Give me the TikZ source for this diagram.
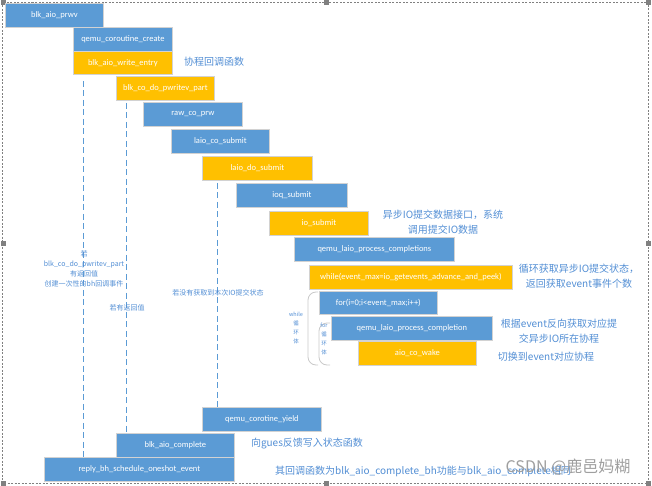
\documentclass[tikz,border=0pt]{standalone}
\usepackage{fontspec}
\setmainfont{Carlito}
\newfontfamily\cjk{Noto Sans CJK SC}
\usepackage{tikz}
\usetikzlibrary{positioning, calc}
\usepackage{xcolor}
\definecolor{boxblue}{RGB}{91,155,213}
\definecolor{boxyellow}{RGB}{255,192,0}
\definecolor{noteblue}{RGB}{82,142,212}
\definecolor{framegray}{RGB}{128,128,128}
\definecolor{bracegray}{RGB}{200,200,200}

\begin{document}
\begin{tikzpicture}[x=1pt, y=-1pt,
  fn/.style={draw=gray!35, line width=0.8pt, text=white, minimum height=24, inner sep=0pt,
    anchor=north west, font=\fontsize{8.5}{10}\selectfont},
  bluefn/.style={fn, fill=boxblue},
  yellowfn/.style={fn, fill=boxyellow},
  note/.style={text=noteblue, font=\cjk\fontsize{10}{15}\selectfont, align=center},
  smallnote/.style={text=noteblue, font=\cjk\fontsize{7}{10}\selectfont, align=center},
  tinynote/.style={text=noteblue, font=\cjk\fontsize{5.5}{9}\selectfont, align=center},
  lifeline/.style={draw=boxblue, line width=0.9pt, dash pattern=on 6pt off 3.5pt},
  loopbrace/.style={draw=bracegray, line width=0.8pt, rounded corners=8pt}]
  \useasboundingbox (0,0) rectangle (652,486);

  \draw[framegray, line width=0.6pt, dash pattern=on 2pt off 1.5pt] (2,2) rectangle (648,483);
  \foreach \hx/\hy in {3/3, 326/3, 648/3, 3/243, 648/243, 3/483, 326/483, 648/483} {
    \fill[framegray] (\hx-2.5, \hy-2.5) rectangle ++(5,5);
  }

  \node[bluefn, minimum width=98] (prwv) at (5,3) {blk\_aio\_prwv};
  \node[bluefn, minimum width=99] (create) at (73,27) {qemu\_coroutine\_create};
  \node[yellowfn, minimum width=99, minimum height=23] (entry) at (73,51) {blk\_aio\_write\_entry};
  \node[yellowfn, minimum width=98] (pwritev) at (116,76) {blk\_co\_do\_pwritev\_part};
  \node[bluefn, minimum width=99] (rawprw) at (143,102) {raw\_co\_prw};
  \node[bluefn, minimum width=98] (cosubmit) at (171,129) {laio\_co\_submit};
  \node[yellowfn, minimum width=110] (dosubmit) at (202,156) {laio\_do\_submit};
  \node[bluefn, minimum width=111] (ioq) at (236,183) {ioq\_submit};
  \node[yellowfn, minimum width=99] (iosubmit) at (269,211) {io\_submit};
  \node[bluefn, minimum width=160] (completions) at (294,237) {qemu\_laio\_process\_completions};
  \node[yellowfn, minimum width=203] (whileloop) at (309,265) {while(event\_max=io\_getevents\_advance\_and\_peek)};
  \node[bluefn, minimum width=118, minimum height=23] (forloop) at (319,291) {for(i=0;i<event\_max;i++)};
  \node[bluefn, minimum width=161] (completion) at (331,316) {qemu\_laio\_process\_completion};
  \node[yellowfn, minimum width=118] (cowake) at (358,341) {aio\_co\_wake};
  \node[bluefn, minimum width=119] (yield) at (202,407) {qemu\_corotine\_yield};
  \node[bluefn, minimum width=118] (complete) at (116,433) {blk\_aio\_complete};
  \node[bluefn, minimum width=190] (reply) at (44,457) {reply\_bh\_schedule\_oneshot\_event};

  \coordinate (l1) at ([xshift=10pt, yshift=-6pt]entry.south west);
  \coordinate (l2) at ([xshift=10pt, yshift=-2pt]pwritev.south west);
  \coordinate (l3) at ([xshift=15pt, yshift=-2pt]dosubmit.south west);
  \draw[lifeline] (l1) -- (l1 |- reply.north);
  \draw[lifeline] (l2) -- (l2 |- complete.north);
  \draw[lifeline] (l3) -- (l3 |- yield.north);

  \node[smallnote] (ifpart) at (84,269) {若\\blk\_co\_do\_pwritev\_part\\有返回值\\创建一次性的bh回调事件};
  \node[smallnote] (ifret) at (127,308) {若有返回值};
  \node[smallnote] (ifnone) at (218,293) {若没有获取到本次IO提交状态};

  \draw[loopbrace] (318,292) -- (308,292) -- (308,365) -- (318,365);
  \draw[loopbrace] (330,323) -- (319,323) -- (319,365) -- (330,365);
  \node[tinynote] (whilebody) at (296,328) {while\\循\\环\\体};
  \node[tinynote] (forbody) at (324,339) {for\\循\\环\\体};

  \node[note] (entrynote) at (214,62) {协程回调函数};
  \node[note] (iosubmitnote) at (443,222) {异步IO提交数据接口，系统\\调用提交IO数据};
  \node[note] (whilenote) at (579,276) {循环获取异步IO提交状态，\\返回获取event事件个数};
  \node[note] (completionnote) at (559,331) {根据event反向获取对应提\\交异步IO所在协程};
  \node[note] (cowakenote) at (546,357) {切换到event对应协程};
  \node[note] (completenote) at (307,444) {向gues反馈写入状态函数};
  \node[note] (replynote) at (423,471) {其回调函数为blk\_aio\_complete\_bh功能与blk\_aio\_complete相同};

  \node[text=gray!75, font=\cjk\fontsize{16}{18}\selectfont] (csdn) at (568,467) {CSDN @鹿邑妈糊};
\end{tikzpicture}
\end{document}
